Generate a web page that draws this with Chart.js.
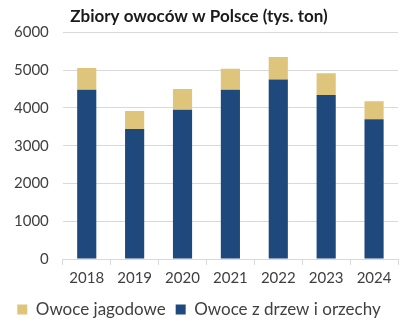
<!DOCTYPE html>
<html>
<head>
<meta charset="utf-8">
<script src="https://cdn.jsdelivr.net/npm/chart.js@4/dist/chart.umd.min.js"></script>
<style>
  html, body { margin: 0; padding: 0; background: #fff; }
  #wrap { width: 417px; height: 330px; position: relative; }
</style>
</head>
<body>
<div id="wrap"><canvas id="chart"></canvas></div>
<script>
// fruit harvest in Poland, thousand tonnes
const YEARS = ['2018', '2019', '2020', '2021', '2022', '2023', '2024'];
const TREE_FRUIT = [4480, 3440, 3950, 4480, 4750, 4340, 3700];
const BERRIES    = [580, 480, 550, 560, 600, 580, 480];

const GOLD = '#dfc47c';
const BLUE = '#1f497d';
const TXT  = '#404040';
const GRID = '#d9d9d9';

new Chart(document.getElementById('chart'), {
  type: 'bar',
  data: {
    labels: YEARS,
    datasets: [
      { label: 'Owoce z drzew i orzechy', data: TREE_FRUIT, backgroundColor: BLUE,
        barPercentage: 0.4, categoryPercentage: 1 },
      { label: 'Owoce jagodowe', data: BERRIES, backgroundColor: GOLD,
        barPercentage: 0.4, categoryPercentage: 1 },
    ],
  },
  options: {
    responsive: true,
    maintainAspectRatio: false,
    animation: false,
    layout: { padding: { top: 4, right: 19, left: 0, bottom: 2 } },
    plugins: {
      title: {
        display: true,
        text: 'Zbiory owoców w Polsce (tys. ton)',
        color: '#1a1a1a',
        font: { family: 'Lato', size: 17, weight: 'bold' },
        padding: { top: 2, bottom: 6 },
      },
      legend: {
        position: 'bottom',
        reverse: true,
        labels: {
          color: TXT, boxWidth: 10, boxHeight: 10, padding: 10,
          font: { family: 'Lato', size: 17 },
        },
      },
      tooltip: { enabled: false },
    },
    scales: {
      x: {
        stacked: true,
        grid: { drawOnChartArea: false, drawTicks: true, tickLength: 6, color: GRID },
        border: { color: GRID },
        ticks: { color: TXT, font: { family: 'Lato', size: 15 }, padding: 4 },
      },
      y: {
        stacked: true,
        min: 0, max: 6000,
        grid: { color: GRID, drawTicks: false },
        border: { display: false },
        ticks: {
          stepSize: 1000, color: TXT, font: { family: 'Lato', size: 15 }, padding: 14,
          callback: v => String(v),
        },
      },
    },
  },
});
</script>
</body>
</html>
